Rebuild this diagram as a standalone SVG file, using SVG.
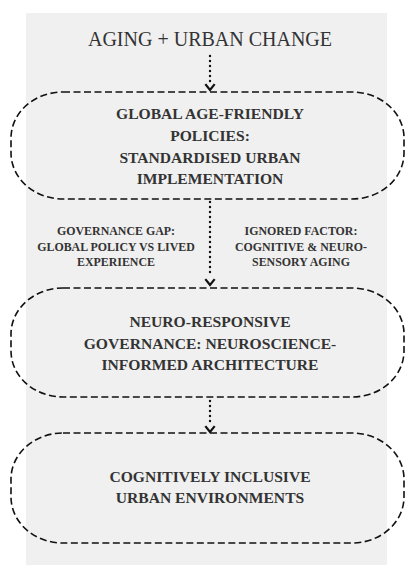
<svg xmlns="http://www.w3.org/2000/svg" width="418" height="577" viewBox="0 0 418 577">
<style>
.f{font-family:"Liberation Serif","Times New Roman","DejaVu Serif",serif}
.box{fill:none;stroke:#111;stroke-width:1.6;stroke-dasharray:7 3.5}
.t{font-weight:bold;font-size:15.6px;fill:#333;text-anchor:middle}
.s{font-weight:bold;font-size:11.9px;fill:#333;text-anchor:middle}
.title{font-size:20px;fill:#333;text-anchor:middle}
.dot{stroke:#111;stroke-width:2.4;stroke-linecap:round;stroke-dasharray:0 5;fill:none}
.head{fill:none;stroke:#111;stroke-width:2.2;stroke-linecap:square}
</style>
<rect width="418" height="577" fill="#fff"/>
<rect x="26" y="13" width="361" height="552" fill="#f0f0f0"/>
<g class="f">
<text class="title" x="210" y="46">AGING + URBAN CHANGE</text>
<g id="n1">
<rect class="box" x="11" y="92" width="393" height="107" rx="52" ry="46"/>
<text class="t" x="210" y="119">GLOBAL AGE-FRIENDLY</text>
<text class="t" x="210" y="141">POLICIES:</text>
<text class="t" x="210" y="163">STANDARDISED URBAN</text>
<text class="t" x="210" y="184">IMPLEMENTATION</text>
</g>
<g id="l1">
<text class="s" x="116" y="235">GOVERNANCE GAP:</text>
<text class="s" x="116" y="251">GLOBAL POLICY VS LIVED</text>
<text class="s" x="116" y="266">EXPERIENCE</text>
</g>
<g id="l2">
<text class="s" x="301" y="235">IGNORED FACTOR:</text>
<text class="s" x="301" y="251">COGNITIVE &amp; NEURO-</text>
<text class="s" x="301" y="266">SENSORY AGING</text>
</g>
<g id="n2">
<rect class="box" x="11" y="288" width="393" height="109" rx="52" ry="46"/>
<text class="t" x="210" y="327">NEURO-RESPONSIVE</text>
<text class="t" x="210" y="349">GOVERNANCE: NEUROSCIENCE-</text>
<text class="t" x="210" y="370">INFORMED ARCHITECTURE</text>
</g>
<g id="n3">
<rect class="box" x="11" y="433" width="393" height="110" rx="52" ry="46"/>
<text class="t" x="210" y="482">COGNITIVELY INCLUSIVE</text>
<text class="t" x="210" y="503">URBAN ENVIRONMENTS</text>
</g>
</g>
<g id="connectors">
<path class="dot" d="M210 56V84"/>
<path class="head" d="M206 85L210 90L214 85"/>
<path class="dot" d="M210 202V277"/>
<path class="head" d="M206 280L210 285L214 280"/>
<path class="dot" d="M210 401V426"/>
<path class="head" d="M206 427L210 432L214 427"/>
</g>
</svg>
